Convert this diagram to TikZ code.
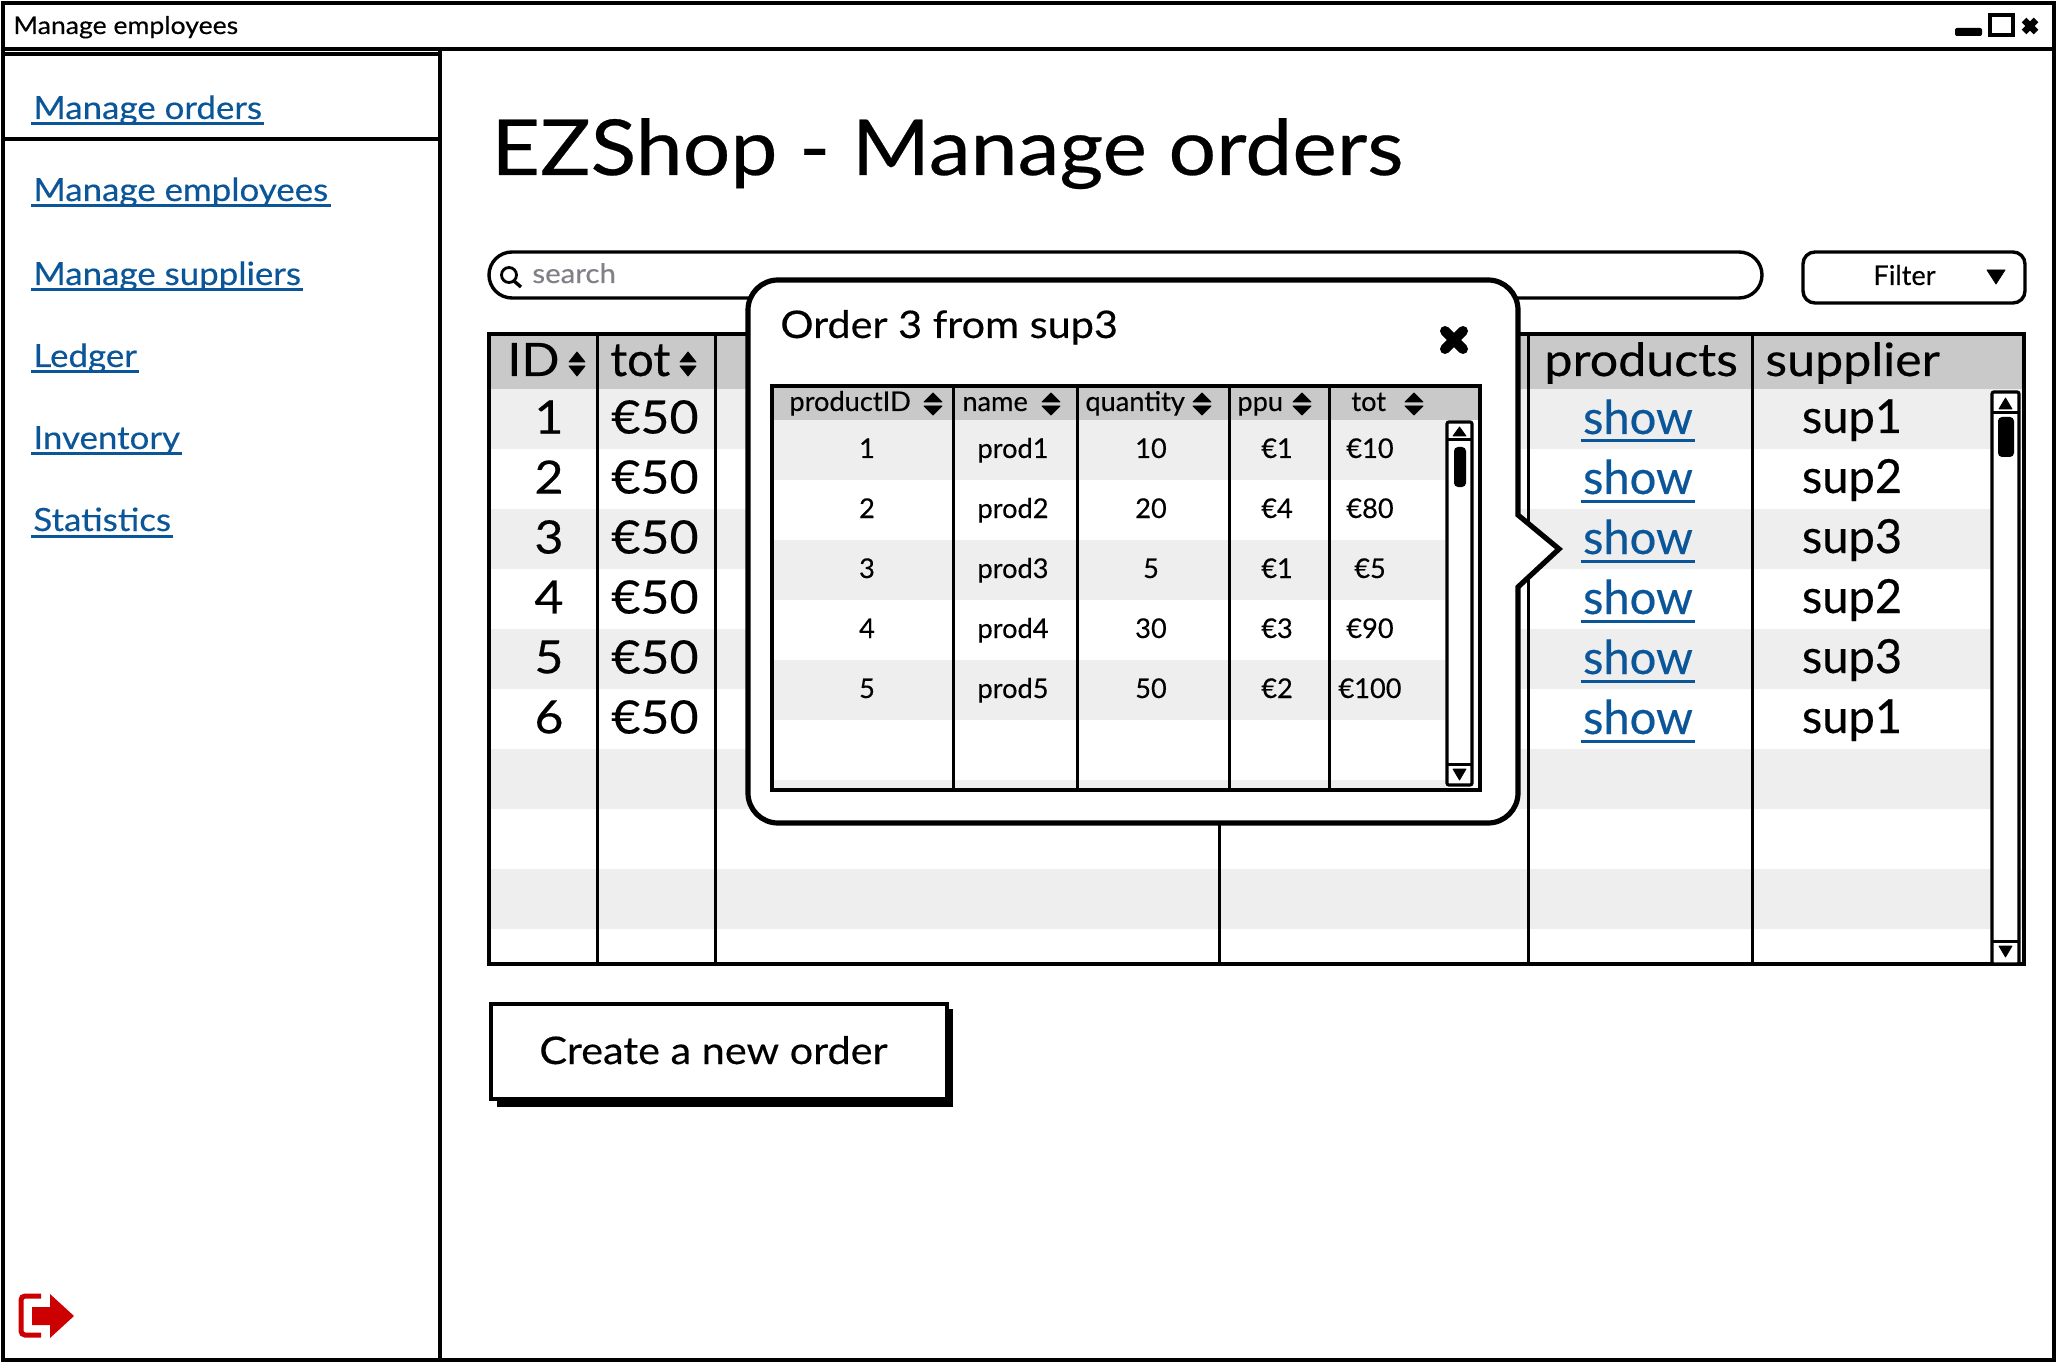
\documentclass[tikz,border=0pt]{standalone}
\usepackage{fontspec}
\setmainfont{Lato}[FakeBold=0.35]
\newfontfamily\widefont{Lato}[FakeStretch=1.09,FakeBold=0.35]
\usepackage{xcolor}
\usetikzlibrary{positioning,calc}
\definecolor{linkblue}{HTML}{0B5599}
\definecolor{headgray}{HTML}{C9C9C9}
\definecolor{rowgray}{HTML}{EEEEEE}
\definecolor{exitred}{HTML}{CC0000}
\definecolor{hintgray}{HTML}{808088}

\begin{document}
\begin{tikzpicture}[
    x=0.5pt, y=-0.5pt,
    txt/.style={inner sep=0pt, text=black},
    wintitle/.style={txt, anchor=base west, font=\widefont\fontsize{12.2}{14}\selectfont},
    navlink/.style={txt, anchor=base west, text=linkblue, font=\widefont\fontsize{16}{18}\selectfont},
    linkline/.style={linkblue, line width=1.5pt},
    pagetitle/.style={txt, anchor=base west, font=\widefont\fontsize{38.6}{44}\selectfont},
    bighead/.style={txt, anchor=base west, font=\widefont\fontsize{23}{26}\selectfont},
    bigcell/.style={txt, font=\widefont\fontsize{23}{26}\selectfont},
    plaincell/.style={txt, anchor=base, font=\fontsize{23.5}{26}\selectfont},
    smallhead/.style={txt, anchor=base west, font=\fontsize{13.6}{16}\selectfont},
    smallcell/.style={txt, anchor=base, font=\fontsize{13.6}{16}\selectfont},
    midtext/.style={txt, anchor=base west, font=\widefont\fontsize{19}{22}\selectfont},
    frame/.style={draw=black, line width=1.7pt},
    thinline/.style={draw=black, line width=1.5pt},
    tablebox/.style={draw=black, line width=2.2pt},
    scrollbox/.style={draw=black, fill=white, line width=1.6pt, rounded corners=1pt},
    blackmark/.style={fill=black, draw=black, line width=0.4pt, line join=round}
]
    \useasboundingbox (0,0) rectangle (2058,1364);
    \fill[white] (0,0) rectangle (2058,1364);

    \draw[frame, line width=2.4pt] (3,3) rectangle (2054,1360);
    \draw[frame, line width=2.2pt] (3,49) -- (2054,49);
    \node[wintitle] (wintitle) at (13,34) {Manage employees};
    \fill[black, rounded corners=1pt] (1955,28) rectangle (1982,36);
    \draw[frame, line width=2.2pt] (1990,15) rectangle (2013,35);
    \draw[black, line width=3.2pt] (2024,20) -- (2036,32) (2036,20) -- (2024,32);

    \draw[frame] (440,49) -- (440,1360);
    \draw[frame, line width=2pt] (3,54) rectangle (440,139);
    \foreach \i/\lab/\y in {1/Manage orders/119,2/Manage employees/201,3/Manage suppliers/285,
        4/Ledger/367,5/Inventory/449,6/Statistics/531} {
        \node[navlink] (nav\i) at (33,\y) {\lab};
        \draw[linkline] ([xshift=-1pt,yshift=-2.5pt]nav\i.base west) -- ([xshift=1pt,yshift=-2.5pt]nav\i.base east);
    }

    \node[pagetitle] (title) at (491,175) {EZShop - Manage orders};

    \draw[frame] (489,252) [rounded corners=11.5pt] rectangle (1762,298);
    \draw[black, line width=1.4pt] (509,275) circle (7.5);
    \draw[black, line width=1.7pt] (514,281) -- (521,287);
    \node[txt, anchor=base west, text=hintgray, font=\widefont\fontsize{13.5}{16}\selectfont] (search) at (532,283) {search};

    \draw[frame, rounded corners=6pt] (1803,252) rectangle (2025,303);
    \node[smallhead] (filter) at (1873,285) {Filter};
    \fill[blackmark] (1987,270) -- (2005,270) -- (1996,284) -- cycle;

    \fill[headgray] (489,334) rectangle (2024,389);
    \foreach \k in {0,2,4,6,8}
        \fill[rowgray] (489,{389+60*\k}) rectangle (2024,{449+60*\k});
    \foreach \x in {597,715,1219,1528,1752}
        \draw[thinline] (\x,334) -- (\x,964);
    \draw[tablebox] (489,334) rectangle (2024,964);

    \node[bighead] (headid) at (507,376) {ID};
    \node[plaincell, anchor=base west] (headtot) at (610,376) {tot};
    \node[bighead] (headprod) at (1544,376) {products};
    \node[bighead] (headsup) at (1765,376) {supplier};
    \foreach \x in {577,688} {
        \fill[blackmark] (\x-8,362) -- (\x+8,362) -- (\x,352) -- cycle;
        \fill[blackmark] (\x-8,366) -- (\x+8,366) -- (\x,376) -- cycle;
    }

    \foreach \i/\s in {1/sup1,2/sup2,3/sup3,4/sup2,5/sup3,6/sup1} {
        \node[bigcell] (id\i) at (549,{417+60*(\i-1)}) {\i};
        \node[bigcell] (tot\i) at (655,{417+60*(\i-1)}) {€50};
        \node[plaincell, text=linkblue] (show\i) at (1638,{434+60*(\i-1)}) {show};
        \draw[linkline] ([xshift=-1pt,yshift=-3.5pt]show\i.base west) -- ([xshift=1pt,yshift=-3.5pt]show\i.base east);
        \node[plaincell] (sup\i) at (1852,{433+60*(\i-1)}) {\s};
    }

    \draw[scrollbox] (1992,392) rectangle (2019,964);
    \draw[thinline] (1992,413) -- (2019,413) (1992,941) -- (2019,941);
    \fill[blackmark] (1999,409) -- (2012,409) -- (2005.5,398) -- cycle;
    \fill[blackmark] (1999,946) -- (2012,946) -- (2005.5,957) -- cycle;
    \fill[black, rounded corners=2pt] (1998,417) rectangle (2014,457);

    \draw[line width=2.6pt, draw=black, fill=white]
        (1100,280) [rounded corners=15pt] -- (1518,280) -- (1518,400)
        [sharp corners] -- (1518,515) -- (1559,549) -- (1518,587) -- (1518,700)
        [rounded corners=15pt] -- (1518,823) -- (748,823) -- (748,280) -- cycle;
    \node[midtext] (poptitle) at (780,338) {Order 3 from sup3};
    \draw[black, line width=5pt, line cap=round] (1445,331) -- (1463,349) (1463,331) -- (1445,349);

    \fill[headgray] (772,384) rectangle (1480,420);
    \foreach \k in {0,2,4}
        \fill[rowgray] (772,{420+60*\k}) rectangle (1447,{480+60*\k});
    \fill[rowgray] (772,780) rectangle (1447,790);
    \foreach \x in {953,1077,1229,1329}
        \draw[thinline] (\x,384) -- (\x,792);
    \draw[tablebox] (772,386) rectangle (1480,790);

    \node[smallhead] (hprod) at (789,411) {productID};
    \node[smallhead] (hname) at (962,411) {name};
    \node[smallhead] (hqty) at (1085,411) {quantity};
    \node[smallhead] (hppu) at (1237,411) {ppu};
    \node[smallhead] (htot) at (1351,411) {tot};
    \foreach \x in {933,1051,1202,1302,1414} {
        \fill[blackmark] (\x-9,402) -- (\x+9,402) -- (\x,393) -- cycle;
        \fill[blackmark] (\x-9,406) -- (\x+9,406) -- (\x,415) -- cycle;
    }

    \foreach \i/\pname/\qty/\ppu/\tot in {1/prod1/10/€1/€10,2/prod2/20/€4/€80,3/prod3/5/€1/€5,
        4/prod4/30/€3/€90,5/prod5/50/€2/€100} {
        \node[smallcell] (rid\i) at (867,{458+60*(\i-1)}) {\i};
        \node[smallcell] (rname\i) at (1013,{458+60*(\i-1)}) {\pname};
        \node[smallcell] (rqty\i) at (1151,{458+60*(\i-1)}) {\qty};
        \node[smallcell] (rppu\i) at (1277,{458+60*(\i-1)}) {\ppu};
        \node[smallcell] (rtot\i) at (1370,{458+60*(\i-1)}) {\tot};
    }

    \draw[scrollbox] (1447,422) rectangle (1472,785);
    \draw[thinline] (1447,440) -- (1472,440) (1447,764) -- (1472,764);
    \fill[blackmark] (1453,436) -- (1466,436) -- (1459.5,427) -- cycle;
    \fill[blackmark] (1453,769) -- (1466,769) -- (1459.5,780) -- cycle;
    \fill[black, rounded corners=2pt] (1454,447) rectangle (1466,487);

    \fill[black] (497,1009) rectangle (953,1107);
    \draw[frame, line width=2pt, fill=white] (491,1004) rectangle (947,1099);
    \node[midtext] (createbtn) at (539,1064) {Create a new order};

    \draw[exitred, line width=2.5pt, rounded corners=2pt] (41,1296) -- (21,1296) -- (21,1335) -- (41,1335);
    \fill[exitred] (32,1307) -- (50,1307) -- (50,1294) -- (74,1316) -- (50,1338) -- (50,1325) -- (32,1325) -- cycle;
\end{tikzpicture}
\end{document}
